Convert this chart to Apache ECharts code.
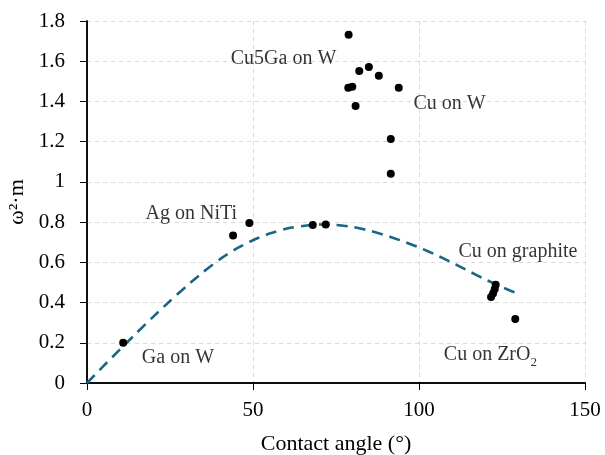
<!DOCTYPE html>
<html>
<head>
<meta charset="utf-8">
<title>Contact angle vs ω²·m</title>
<script src="https://cdn.jsdelivr.net/npm/echarts@6/dist/echarts.min.js"></script>
<style>
	html, body { margin: 0; padding: 0; background: #fff; }
	#chart { width: 605px; height: 455px; }
</style>
</head>
<body>
<div id="chart"></div>
<script>
// measured points (contact angle in degrees, ω²·m)
var pointAngle = [10.9, 44.0, 48.9, 68.0, 71.9, 78.8, 82.0, 84.9, 87.9, 78.7, 79.9, 93.9, 80.9, 91.5, 91.5, 123.1, 122.8, 122.3, 121.7, 129.0];
var pointValue = [0.20, 0.733, 0.795, 0.786, 0.788, 1.732, 1.551, 1.571, 1.528, 1.468, 1.473, 1.468, 1.377, 1.213, 1.041, 0.489, 0.466, 0.445, 0.428, 0.318];

// dashed fit curve
var curveAngle = [0, 5, 10, 15, 20, 25, 30, 35, 40, 45, 50, 55, 60, 65, 70, 75, 80, 85, 90, 95, 100, 105, 110, 115, 120, 125, 130];
var curveValue = [0, 0.085, 0.168, 0.25, 0.33, 0.408, 0.482, 0.552, 0.615, 0.668, 0.71, 0.743, 0.767, 0.781, 0.788, 0.786, 0.776, 0.758, 0.734, 0.706, 0.674, 0.638, 0.598, 0.556, 0.515, 0.477, 0.442];

// annotation texts and where they sit (data units)
var noteText = ['Cu5Ga on W', 'Cu on W', 'Ag on NiTi', 'Cu on graphite', 'Ga on W', 'Cu on ZrO{sub|2}'];
var noteAngle = [59.2, 109.2, 31.4, 129.8, 27.4, 121.5];
var noteValue = [1.611, 1.39, 0.841, 0.655, 0.125, 0.14];

var xTicks = [0, 50, 100, 150];
var yTicks = [0, 0.2, 0.4, 0.6, 0.8, 1, 1.2, 1.4, 1.6, 1.8];

var FONT = 'Liberation Serif';

var chart = echarts.init(document.getElementById('chart'));

var points = [];
for (var i = 0; i < pointAngle.length; i++) {
	points.push([pointAngle[i], pointValue[i]]);
}
var curve = [];
for (var i = 0; i < curveAngle.length; i++) {
	curve.push([curveAngle[i], curveValue[i]]);
}
var notes = [];
for (var i = 0; i < noteText.length; i++) {
	notes.push({ value: [noteAngle[i], noteValue[i]], name: noteText[i] });
}

var gridLine = { show: true, lineStyle: { color: '#d9d9d9', type: [4, 4], width: 1 } };

var option = {
	animation: false,
	backgroundColor: '#fff',
	grid: { left: 87, right: 20, top: 21, bottom: 72, outerBoundsMode: 'none' },
	xAxis: [
		{
			type: 'value',
			min: xTicks[0],
			max: xTicks[xTicks.length - 1],
			interval: 50,
			name: 'Contact angle (°)',
			nameLocation: 'middle',
			nameGap: 50,
			nameTextStyle: { fontFamily: FONT, fontSize: 22, color: '#000' },
			axisLine: { show: true, lineStyle: { color: '#000', width: 1.5 } },
			axisTick: { show: true, inside: false, length: 7, lineStyle: { color: '#000', width: 1 } },
			axisLabel: { margin: 17, fontFamily: FONT, fontSize: 21, color: '#000' },
			splitLine: gridLine
		},
		{
			type: 'value',
			position: 'top',
			min: 0, max: 150,
			axisLine: { show: true, lineStyle: { color: '#000', width: 1.5 } },
			axisTick: { show: false },
			axisLabel: { show: false },
			splitLine: { show: false }
		}
	],
	yAxis: [
		{
			type: 'value',
			min: yTicks[0],
			max: yTicks[yTicks.length - 1],
			interval: 0.2,
			name: 'ω²·m',
			nameLocation: 'middle',
			nameGap: 56,
			nameTextStyle: { fontFamily: FONT, fontSize: 22, color: '#000' },
			axisLine: { show: true, lineStyle: { color: '#000', width: 1.5 } },
			axisTick: { show: true, inside: false, length: 7, lineStyle: { color: '#000', width: 1 } },
			axisLabel: {
				margin: 22, fontFamily: FONT, fontSize: 21, color: '#000',
				formatter: function (v) { return String(Math.round(v * 10) / 10); }
			},
			splitLine: gridLine
		},
		{
			type: 'value',
			position: 'right',
			min: 0, max: 1.8,
			axisLine: { show: true, lineStyle: { color: '#000', width: 1.5 } },
			axisTick: { show: false },
			axisLabel: { show: false },
			splitLine: { show: false }
		}
	],
	series: [
		{
			name: 'fit',
			type: 'line',
			data: curve,
			showSymbol: false,
			smooth: 0.2,
			lineStyle: { color: '#1b6587', width: 2.6, type: [11, 7] },
			z: 2
		},
		{
			name: 'measured',
			type: 'scatter',
			data: points,
			symbol: 'circle',
			symbolSize: 8,
			itemStyle: { color: '#000', opacity: 1 },
			z: 3
		},
		{
			name: 'notes',
			type: 'scatter',
			data: notes,
			symbolSize: 1,
			itemStyle: { color: 'transparent' },
			silent: true,
			label: {
				show: true,
				position: 'inside',
				formatter: '{b}',
				fontFamily: FONT,
				fontSize: 20,
				color: '#000',
				lineHeight: 28,
				rich: {
					sub: { fontFamily: FONT, fontSize: 13, lineHeight: 13, verticalAlign: 'bottom', color: '#000' }
				}
			},
			z: 4
		}
	]
};

chart.setOption(option);
</script>
</body>
</html>
